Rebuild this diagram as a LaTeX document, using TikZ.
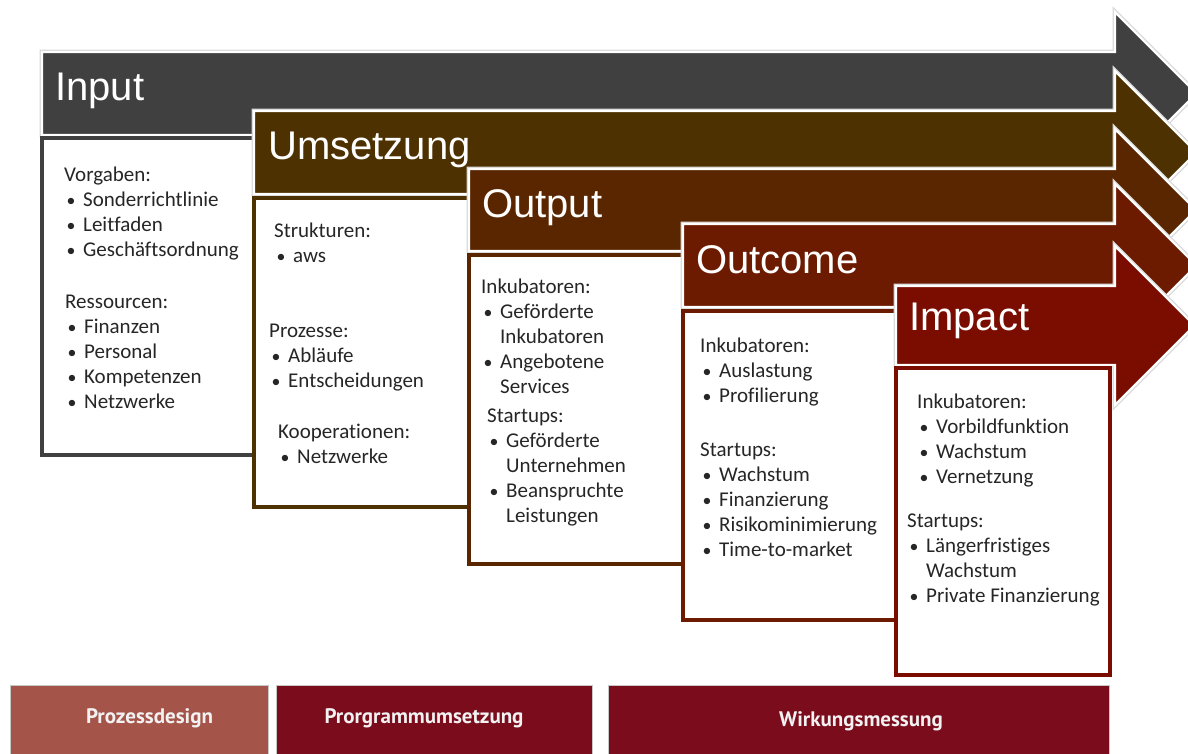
\documentclass[tikz,border=0pt]{standalone}
\usepackage{fontspec}
\setmainfont{Carlito}[Ligatures=NoCommon]
\newfontfamily\titlefont{Liberation Sans}
\newfontfamily\barfont{PT Sans}

\definecolor{cInput}{RGB}{64,64,64}
\definecolor{cUmsetzung}{RGB}{77,49,0}
\definecolor{cOutput}{RGB}{90,38,0}
\definecolor{cOutcome}{RGB}{108,26,0}
\definecolor{cImpact}{RGB}{122,12,0}
\definecolor{cDesign}{RGB}{165,84,74}
\definecolor{cProgramm}{RGB}{122,12,28}
\definecolor{cText}{RGB}{38,38,38}

% block arrow: body from x=#1 between y=#2 (top) and y=#3 (bottom), head at x=1115
\newcommand\stageshape[3]{(#1,#2) -- (1115,#2) -- (1115,#2-40)
  -- ({1115+(#3-#2)/2+40},{(#2+#3)/2}) -- (1115,#3+40) -- (1115,#3) -- (#1,#3) -- cycle}

% bulleted line with hanging indent
\newcommand\bul[1]{\par\hangindent=19pt\hangafter=1
  \makebox[19pt][l]{\hspace{2.5pt}\scalebox{0.85}{\textbullet}}#1}
\newcommand\blk[1]{\parbox[t]{215pt}{\fontsize{21}{25}\selectfont #1}}

\tikzset{
  x=1pt, y=-1pt,
  arrowshadow/.style={draw=black!15, line width=4.6pt, line join=miter},
  stagearrow/.style={fill=#1, draw=white, line width=2.4pt, line join=miter},
  stagebox/.style={fill=white, draw=#1, line width=3.2pt},
  titletext/.style={text=white, anchor=base west, inner sep=0pt,
    font=\titlefont\fontsize{40}{48}\selectfont},
  itemtext/.style={anchor=base west, inner sep=0pt, text=cText},
  barbox/.style={fill=#1, draw=black!22, line width=0.8pt},
  bartext/.style={text=white!95!black, inner sep=0pt,
    font=\barfont\bfseries\fontsize{21}{24}\selectfont}
}

\begin{document}
\begin{tikzpicture}
\useasboundingbox (0,0) rectangle (1188,754);
\clip (0,0) rectangle (1188,754);
\fill[white] (0,0) rectangle (1188,754);

% ---- Input
\path[arrowshadow] \stageshape{42}{52}{135};
\path[stagearrow=cInput] \stageshape{42}{52}{135};
\node[titletext] (tInput) at (55,101) {Input};
\path[stagebox=cInput] (42,138) rectangle (254,455);
\node[itemtext] (inA) at (64,182) {\blk{Vorgaben:\bul{Sonderrichtlinie}\bul{Leitfaden}\bul{Geschäftsordnung}}};
\node[itemtext] (inB) at (65,308) {\blk{Ressourcen:\bul{Finanzen}\bul{Personal}\bul{Kompetenzen}\bul{Netzwerke}}};

% ---- Umsetzung
\path[arrowshadow] \stageshape{254}{111}{194};
\path[stagearrow=cUmsetzung] \stageshape{254}{111}{194};
\node[titletext] (tUmsetzung) at (268,160) {Umsetzung};
\path[stagebox=cUmsetzung] (254,198) rectangle (469,507);
\node[itemtext] (umA) at (274,237) {\blk{Strukturen:\bul{aws}}};
\node[itemtext] (umB) at (269,337) {\blk{Prozesse:\bul{Abläufe}\bul{Entscheidungen}}};
\node[itemtext] (umC) at (278,438) {\blk{Kooperationen:\bul{Netzwerke}}};

% ---- Output
\path[arrowshadow] \stageshape{469}{169}{251};
\path[stagearrow=cOutput] \stageshape{469}{169}{251};
\node[titletext] (tOutput) at (482,218) {Output};
\path[stagebox=cOutput] (469,255) rectangle (683,564);
\node[itemtext] (ouA) at (481,293) {\blk{Inkubatoren:\bul{Geförderte\\Inkubatoren}\bul{Angebotene\\Services}}};
\node[itemtext] (ouB) at (487,422) {\blk{Startups:\bul{Geförderte\\Unternehmen}\bul{Beanspruchte\\Leistungen}}};

% ---- Outcome
\path[arrowshadow] \stageshape{683}{224}{307};
\path[stagearrow=cOutcome] \stageshape{683}{224}{307};
\node[titletext] (tOutcome) at (696,273) {Outcome};
\path[stagebox=cOutcome] (683,311) rectangle (896,620);
\node[itemtext] (ocA) at (700,352) {\blk{Inkubatoren:\bul{Auslastung}\bul{Profilierung}}};
\node[itemtext] (ocB) at (700,456) {\blk{Startups:\bul{Wachstum}\bul{Finanzierung}\bul{Risikominimierung}\bul{Time-to-market}}};

% ---- Impact
\path[arrowshadow] \stageshape{896}{286}{365};
\path[stagearrow=cImpact] \stageshape{896}{286}{365};
\node[titletext] (tImpact) at (909,330) {Impact};
\path[stagebox=cImpact] (896,368) rectangle (1110,675);
\node[itemtext] (imA) at (917,408) {\blk{Inkubatoren:\bul{Vorbildfunktion}\bul{Wachstum}\bul{Vernetzung}}};
\node[itemtext] (imB) at (907,527) {\blk{Startups:\bul{Längerfristiges\\Wachstum}\bul{Private Finanzierung}}};

% ---- phase bars
\path[barbox=cDesign] (10,685) rectangle (268,760);
\node[bartext] (bDesign) at (149.5,718) {Prozessdesign};
\path[barbox=cProgramm] (276,685) rectangle (592,760);
\node[bartext] (bProgramm) at (424,718) {Prorgrammumsetzung};
\path[barbox=cProgramm] (608,685) rectangle (1109,760);
\node[bartext] (bWirkung) at (861,721) {Wirkungsmessung};
\end{tikzpicture}
\end{document}
